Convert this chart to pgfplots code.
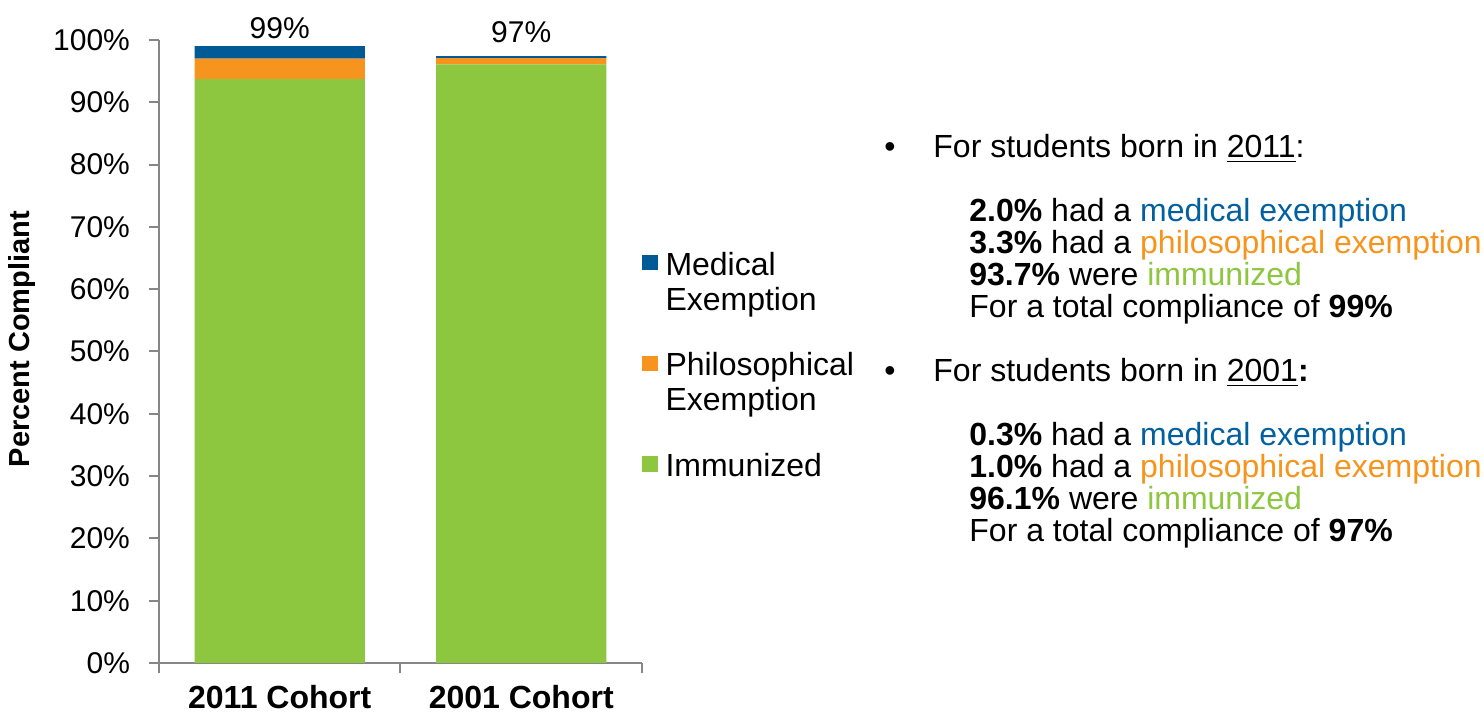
\documentclass[border=0pt]{standalone}
\usepackage{fontspec}
\setmainfont{Liberation Sans}
\usepackage{pgfplots}
\pgfplotsset{compat=1.18}
\definecolor{medblue}{RGB}{0,90,150}
\definecolor{philor}{RGB}{247,148,29}
\definecolor{immgreen}{RGB}{141,198,63}
\definecolor{axgray}{RGB}{134,134,134}
\definecolor{txtblue}{RGB}{0,96,160}

\begin{document}
\begin{tikzpicture}
\useasboundingbox (0,0) rectangle (742pt,-357.5pt);
\begin{axis}[
    at={(79.5pt,-331.5pt)}, anchor=south west,
    scale only axis, width=241.5pt, height=311.5pt,
    clip=false,
    ybar stacked, bar width=0.704,
    xmin=-0.5, xmax=1.5, ymin=0, ymax=100,
    axis lines=left,
    axis line style={-, draw=axgray, line width=1pt},
    ytick={0,10,...,100},
    yticklabel={\pgfmathprintnumber{\tick}\%},
    /pgf/number format/assume math mode=true,
    tick align=outside, major tick length=5pt,
    tick style={draw=axgray, line width=1pt},
    yticklabel style={font=\fontsize{15}{18}\selectfont, xshift=-6pt},
    xtick={-0.5,0.5,1.5}, xticklabels={},
    extra x ticks={0,1},
    extra x tick labels={2011 Cohort,2001 Cohort},
    extra x tick style={major tick length=0pt,
        xticklabel style={font=\fontsize{16}{19}\selectfont\bfseries, yshift=-7.5pt}},
    ylabel={Percent Compliant},
    ylabel style={font=\fontsize{14.5}{17}\selectfont\bfseries,
        at={(axis description cs:-0.284,0.52)}, anchor=center},
    legend image code/.code={\fill[#1] (0pt,1.75pt) rectangle (7.75pt,9.5pt);},
    legend style={at={(rel axis cs:1,0.662)}, anchor=north west,
        draw=none, fill=none, inner sep=0pt, outer sep=0pt, row sep=27pt,
        font=\fontsize{16}{17.5}\selectfont,
        nodes={inner sep=0pt, inner xsep=4pt}},
    legend cell align=left,
    reverse legend,
]
\addplot[fill=immgreen, draw=none] coordinates {(0,93.7) (1,96.1)};
\addlegendentry{\begin{tabular}{@{}l@{}}Immunized\\ \mbox{}\end{tabular}}
\addplot[fill=philor, draw=none] coordinates {(0,3.3) (1,1.0)};
\addlegendentry{\begin{tabular}{@{}l@{}}Philosophical\\ Exemption\end{tabular}}
\addplot[fill=medblue, draw=none] coordinates {(0,2.0) (1,0.3)};
\addlegendentry{\begin{tabular}{@{}l@{}}Medical\\ Exemption\end{tabular}}
\node[anchor=base, inner sep=0pt, font=\fontsize{15}{18}\selectfont, yshift=4pt] at (axis cs:0,99) {99\%};
\node[anchor=base, inner sep=0pt, font=\fontsize{15}{18}\selectfont, yshift=7pt] at (axis cs:1,97.4) {97\%};
\end{axis}
\begin{scope}[x=0.5pt, y=-0.5pt,
    every node/.style={anchor=base west, inner sep=0pt, font=\fontsize{16}{16}\selectfont}]
\node at (884,158) {\textbullet};
\node at (933,158) {For students born in \underline{2011}:};
\node at (969,222) {\textbf{2.0\%} had a \textcolor{txtblue}{medical exemption}};
\node at (969,254) {\textbf{3.3\%} had a \textcolor{philor}{philosophical exemption}};
\node at (969,286) {\textbf{93.7\%} were \textcolor{immgreen}{immunized}};
\node at (969,318) {For a total compliance of \textbf{99\%}};
\node at (884,382) {\textbullet};
\node at (933,382) {For students born in \underline{2001}\textbf{:}};
\node at (969,446) {\textbf{0.3\%} had a \textcolor{txtblue}{medical exemption}};
\node at (969,478) {\textbf{1.0\%} had a \textcolor{philor}{philosophical exemption}};
\node at (969,510) {\textbf{96.1\%} were \textcolor{immgreen}{immunized}};
\node at (969,542) {For a total compliance of \textbf{97\%}};
\end{scope}
\end{tikzpicture}
\end{document}
